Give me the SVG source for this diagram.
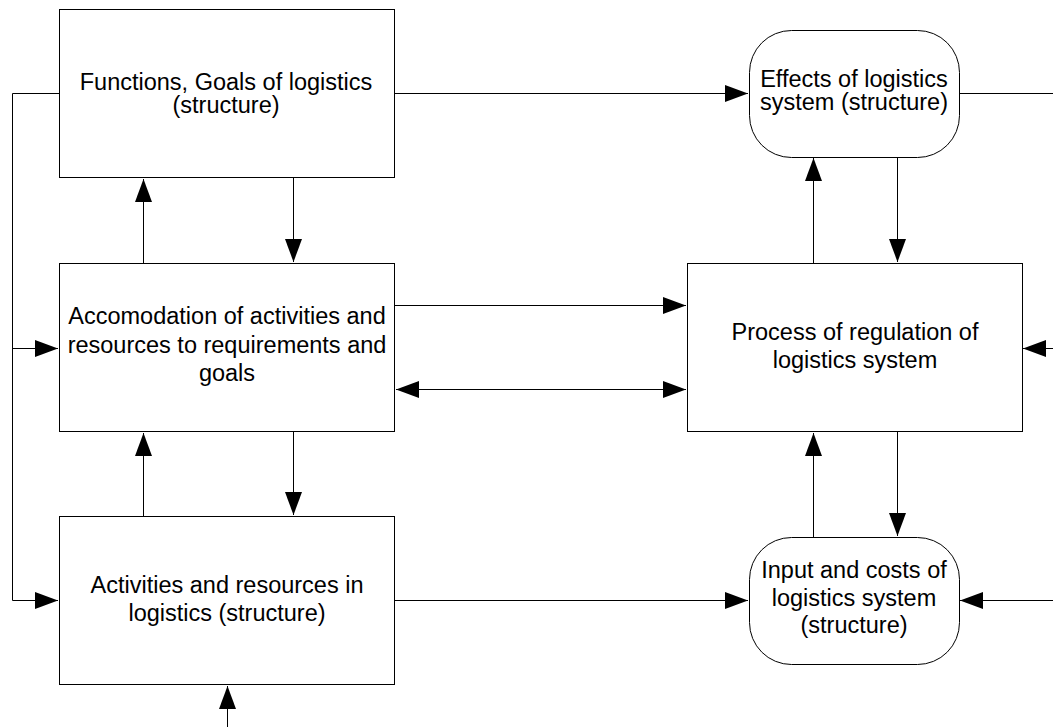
<svg xmlns="http://www.w3.org/2000/svg" width="1053" height="727" viewBox="0 0 1053 727">
<style>
.node{fill:#fff;stroke:#000;stroke-width:1}
.t{font-family:"Liberation Sans",Arial,sans-serif;font-size:23.5px;fill:#000;text-anchor:middle}
.c{fill:none;stroke:#000;stroke-width:1}
</style>
<defs>
<marker id="ah" markerUnits="userSpaceOnUse" markerWidth="24" markerHeight="18" refX="23" refY="8.5" orient="auto-start-reverse">
<path d="M0,0 L23,8.5 L0,17 Z" fill="#000"/>
</marker>
</defs>
<rect width="1053" height="727" fill="#fff"/>
<g id="connectors">
<path class="c" d="M59.5,93.5 H12.5 V600.5 H58" marker-end="url(#ah)"/>
<path class="c" d="M12.5,348.5 H58" marker-end="url(#ah)"/>
<path class="c" d="M394.5,93.5 H748" marker-end="url(#ah)"/>
<path class="c" d="M959.5,93.5 H1053"/>
<path class="c" d="M143.5,263 V179" marker-end="url(#ah)"/>
<path class="c" d="M293.5,178 V262" marker-end="url(#ah)"/>
<path class="c" d="M143.5,516 V433" marker-end="url(#ah)"/>
<path class="c" d="M293.5,432 V515" marker-end="url(#ah)"/>
<path class="c" d="M394.5,305.5 H686" marker-end="url(#ah)"/>
<path class="c" d="M396,389.5 H686" marker-start="url(#ah)" marker-end="url(#ah)"/>
<path class="c" d="M394.5,600.5 H748" marker-end="url(#ah)"/>
<path class="c" d="M1053,348.5 H1023" marker-end="url(#ah)"/>
<path class="c" d="M1053,600.5 H960" marker-end="url(#ah)"/>
<path class="c" d="M813.5,263 V158" marker-end="url(#ah)"/>
<path class="c" d="M897.5,157 V262" marker-end="url(#ah)"/>
<path class="c" d="M813.5,537 V433" marker-end="url(#ah)"/>
<path class="c" d="M897.5,432 V536" marker-end="url(#ah)"/>
<path class="c" d="M227.5,727 V686" marker-end="url(#ah)"/>
</g>
<g id="functions">
<rect class="node" x="59.5" y="9.5" width="335" height="168"/>
<text class="t" x="226" y="90">Functions, Goals of logistics</text>
<text class="t" x="226" y="113">(structure)</text>
</g>
<g id="accomodation">
<rect class="node" x="59.5" y="263.5" width="335" height="168"/>
<text class="t" x="227" y="324">Accomodation of activities and</text>
<text class="t" x="227" y="353">resources to requirements and</text>
<text class="t" x="227" y="381">goals</text>
</g>
<g id="activities">
<rect class="node" x="59.5" y="516.5" width="335" height="168"/>
<text class="t" x="227" y="593">Activities and resources in</text>
<text class="t" x="227" y="621">logistics (structure)</text>
</g>
<g id="effects">
<rect class="node" x="749.5" y="30.5" width="210" height="127" rx="42" ry="42"/>
<text class="t" x="854" y="87">Effects of logistics</text>
<text class="t" x="854" y="110">system (structure)</text>
</g>
<g id="process">
<rect class="node" x="687.5" y="263.5" width="335" height="168"/>
<text class="t" x="855" y="340">Process of regulation of</text>
<text class="t" x="855" y="368">logistics system</text>
</g>
<g id="input">
<rect class="node" x="749.5" y="537.5" width="210" height="127" rx="42" ry="42"/>
<text class="t" x="854" y="578">Input and costs of</text>
<text class="t" x="854" y="606">logistics system</text>
<text class="t" x="854" y="633">(structure)</text>
</g>
</svg>
